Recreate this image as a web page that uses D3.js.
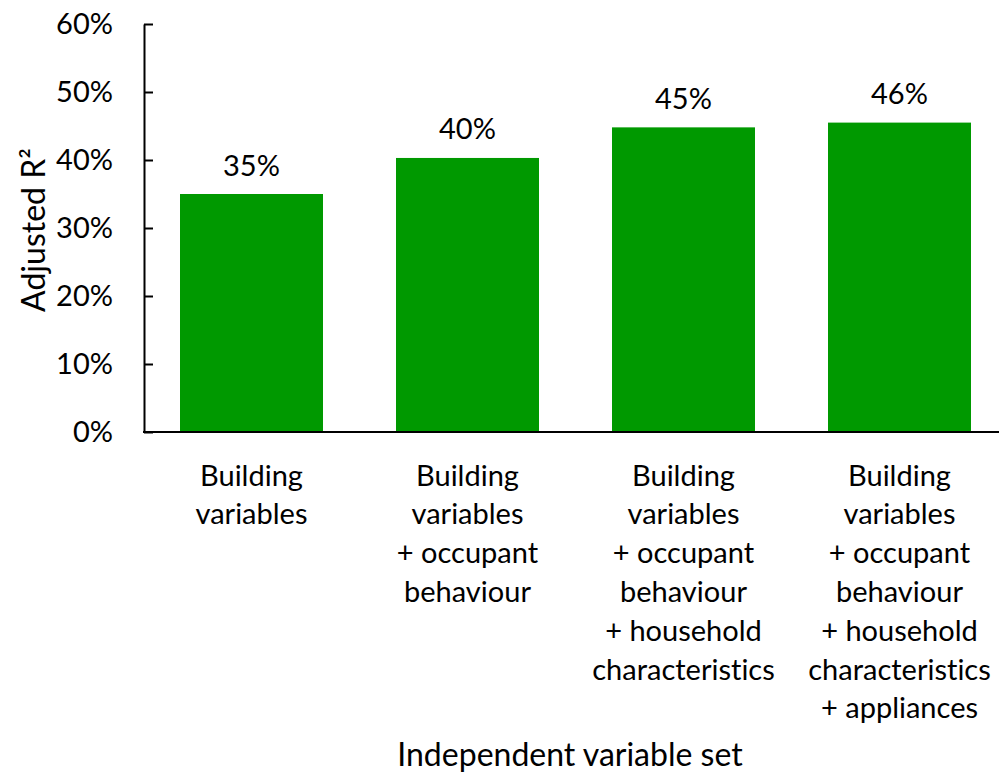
<!DOCTYPE html>
<html><head><meta charset="utf-8">
<script src="https://cdn.jsdelivr.net/npm/d3@7"></script>
<style>body{margin:0;background:#fff}svg{display:block}text{font-family:Lato,"Open Sans",sans-serif;fill:#000;font-variant-ligatures:none;font-feature-settings:"liga" 0}</style>
</head><body>
<svg id="c" width="999" height="773"></svg>
<script>
const categories = [
  ["Building","variables"],
  ["Building","variables","+ occupant","behaviour"],
  ["Building","variables","+ occupant","behaviour","+ household","characteristics"],
  ["Building","variables","+ occupant","behaviour","+ household","characteristics","+ appliances"]
];
const values = [0.35, 0.403, 0.448, 0.455];
const valueLabels = ["35%","40%","45%","46%"];
const yTicks = [0,0.1,0.2,0.3,0.4,0.5,0.6];
const yTitle = "Adjusted R²";
const xTitle = "Independent variable set";

const svg = d3.select("#c");
const fs = 29;
const x = d3.scaleBand().domain(d3.range(values.length)).range([143.5, 1007.5]).paddingInner(0.338).paddingOuter(0.169);
const y = d3.scaleLinear().domain([0,0.6]).range([432,24]);

svg.selectAll("rect.bar").data(values).join("rect").attr("class","bar")
  .attr("x",(d,i)=>x(i)).attr("width",x.bandwidth())
  .attr("y",d=>y(d)).attr("height",d=>y(0)-y(d)).attr("fill","#009900");

const yAxis = svg.append("g").attr("transform","translate(144,0)")
  .call(d3.axisLeft(y).tickValues(yTicks).tickFormat(d3.format(".0%")).tickSizeInner(-9).tickSizeOuter(0).tickPadding(31));
yAxis.select(".domain").attr("stroke","#000").attr("stroke-width",2);
yAxis.selectAll(".tick line").attr("stroke","#000").attr("stroke-width",2);
yAxis.selectAll(".tick text").attr("font-size",fs).attr("font-family","Lato");

svg.append("line").attr("x1",143).attr("x2",999).attr("y1",432).attr("y2",432).attr("stroke","#000").attr("stroke-width",2);

svg.selectAll("text.vl").data(values).join("text").attr("class","vl")
  .attr("x",(d,i)=>x(i)+x.bandwidth()/2).attr("y",d=>y(d)-30)
  .attr("text-anchor","middle").attr("dominant-baseline","central").attr("font-size",fs)
  .text((d,i)=>valueLabels[i]);

categories.forEach((lines,i)=>{
  const t = svg.append("text").attr("text-anchor","middle").attr("font-size",fs);
  lines.forEach((ln,j)=>{
    t.append("tspan").attr("x",x(i)+x.bandwidth()/2).attr("y",474+j*38.8)
     .attr("dominant-baseline","central").text(ln);
  });
});

svg.append("text").attr("x",570).attr("y",753).attr("text-anchor","middle")
  .attr("dominant-baseline","central").attr("font-size",32).text(xTitle);
svg.append("text").attr("transform","translate(32,230) rotate(-90)").attr("text-anchor","middle")
  .attr("dominant-baseline","central").attr("font-size",32).text(yTitle);
</script>
</body></html>
